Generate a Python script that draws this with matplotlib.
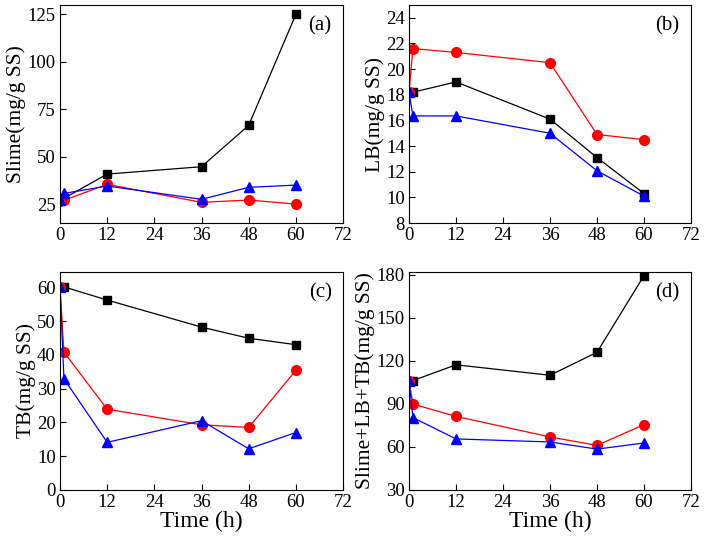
import matplotlib
matplotlib.use('Agg')
import matplotlib.pyplot as plt

plt.rcParams['font.family'] = ['Liberation Serif', 'DejaVu Serif']

time = [0, 1, 12, 36, 48, 60]

slime_k = [27.0, 28.0, 40.8, 44.7, 66.5, 125.0]
slime_r = [26.5, 27.0, 35.4, 25.9, 27.1, 25.0]
slime_b = [27.0, 30.6, 34.5, 27.5, 33.8, 35.0]

lb_k = [18.2, 18.2, 19.0, 16.1, 13.1, 10.3]
lb_r = [18.2, 21.6, 21.3, 20.5, 14.9, 14.5]
lb_b = [18.2, 16.35, 16.35, 15.0, 12.07, 10.1]

tb_k = [60.0, 60.1, 56.2, 48.2, 44.9, 43.0]
tb_r = [60.0, 40.8, 23.9, 19.3, 18.5, 35.4]
tb_b = [60.0, 32.9, 14.1, 20.5, 12.2, 17.0]

tot_k = [106.3, 106.3, 117.3, 110.0, 126.0, 179.5]
tot_r = [106.3, 89.9, 81.3, 67.0, 61.1, 75.6]
tot_b = [106.3, 80.5, 65.6, 63.5, 58.5, 62.8]

panels = [
    ('Slime(mg/g SS)', '(a)', slime_k, slime_r, slime_b, (15, 130), [25, 50, 75, 100, 125]),
    ('LB(mg/g SS)', '(b)', lb_k, lb_r, lb_b, (8, 25), [8, 10, 12, 14, 16, 18, 20, 22, 24]),
    ('TB(mg/g SS)', '(c)', tb_k, tb_r, tb_b, (0, 64.5), [0, 10, 20, 30, 40, 50, 60]),
    ('Slime+LB+TB(mg/g SS)', '(d)', tot_k, tot_r, tot_b, (30, 182), [30, 60, 90, 120, 150, 180]),
]

W, H = 706, 544
fig = plt.figure(figsize=(W / 100, H / 100), dpi=100)
boxes = [(60, 5, 343, 223), (409, 5, 691, 223), (60, 272, 343, 490), (409, 272, 691, 490)]

for (ylab, tag, yk, yr, yb, ylim, yt), (x0, y0, x1, y1) in zip(panels, boxes):
    ax = fig.add_axes([x0 / W, 1 - y1 / H, (x1 - x0) / W, (y1 - y0) / H])
    ax.plot(time, yk, '-s', color='black', lw=0.9, ms=6, mfc='black', mec='black')
    ax.plot(time, yr, '-o', color='red', lw=0.9, ms=7, mfc='red', mec='red')
    ax.plot(time, yb, '-^', color='blue', lw=0.9, ms=7.5, mfc='blue', mec='blue')
    ax.set_xlim(0, 72)
    ax.set_xticks([0, 12, 24, 36, 48, 60, 72])
    ax.set_ylim(*ylim)
    ax.set_yticks(yt)
    ax.tick_params(direction='in', length=4, width=0.8, labelsize=13.5, pad=3)
    ax.set_ylabel(ylab, fontsize=15.5, labelpad=1)
    ax.text(0.96, 0.95, tag, transform=ax.transAxes, ha='right', va='top', fontsize=15)
    for s in ax.spines.values():
        s.set_linewidth(0.8)
    if tag in ('(c)', '(d)'):
        ax.set_xlabel('Time (h)', fontsize=17, labelpad=0)

fig.savefig('out.png', dpi=100)
